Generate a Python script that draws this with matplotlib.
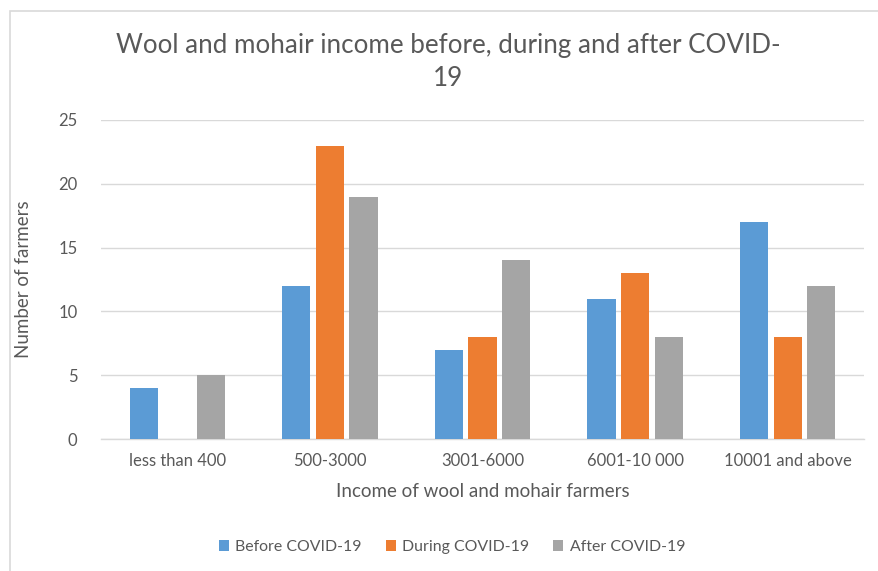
import matplotlib
matplotlib.use("Agg")
import matplotlib.pyplot as plt
from matplotlib.patches import Rectangle, Patch
import numpy as np

categories = ["less than 400", "500-3000", "3001-6000", "6001-10 000", "10001 and above"]
before = [4, 12, 7, 11, 17]
during = [0, 23, 8, 13, 8]
after = [5, 19, 14, 8, 12]
series_names = ["Before COVID-19", "During COVID-19", "After COVID-19"]
colors = ["#5B9BD5", "#ED7D31", "#A5A5A5"]
yticks = [0, 5, 10, 15, 20, 25]

plt.rcParams['font.family'] = ['Lato', 'DejaVu Sans']
TXT = "#595959"

W, H = 879, 571
fig = plt.figure(figsize=(W / 100, H / 100), dpi=100)
fig.patch.set_facecolor("white")

def fx(px):
    return px / W

def fy(py):
    return 1 - py / H

# chart border
fig.patches.append(Rectangle((fx(10), fy(590)), fx(900), (590 - 11) / H,
                             transform=fig.transFigure, fill=False,
                             edgecolor="#D9D9D9", linewidth=1.2))

left, right, top, bottom = 101, 864, 120, 439
ax = fig.add_axes([fx(left), fy(bottom), fx(right - left), (bottom - top) / H])

x = np.arange(len(categories))
bw = 0.184
off = 0.22
for i, (vals, c, name) in enumerate(zip([before, during, after], colors, series_names)):
    ax.bar(x + (i - 1) * off, vals, width=bw, color=c, label=name, zorder=3)

ax.set_xlim(-0.5, len(categories) - 0.5)
ax.set_ylim(0, 25)
ax.set_yticks(yticks)
ax.set_xticks(x)
ax.set_xticklabels(categories)
ax.yaxis.grid(True, color="#D9D9D9", linewidth=1.0, zorder=0)
ax.xaxis.grid(False)
for s in ["top", "right", "left"]:
    ax.spines[s].set_visible(False)
ax.spines["bottom"].set_color("#D9D9D9")
ax.spines["bottom"].set_linewidth(1.0)
ax.tick_params(axis="both", length=0, colors=TXT, labelsize=12)
ax.tick_params(axis="x", pad=10)
ax.tick_params(axis="y", pad=17)
ax.set_facecolor("white")

ax.set_xlabel("Income of wool and mohair farmers", color=TXT, fontsize=13.5, labelpad=10)
ax.set_ylabel("Number of farmers", color=TXT, fontsize=13.5, labelpad=19)

fig.text(fx(448), fy(62), "Wool and mohair income before, during and after COVID-\n19",
         ha="center", va="center", fontsize=18.7, color=TXT, linespacing=1.4)

handles = [Patch(facecolor=c, edgecolor="none") for c in colors]
fig.legend(handles, series_names, loc="center", bbox_to_anchor=(fx(452), fy(547)),
           ncol=3, frameon=False, fontsize=11.4, labelcolor=TXT,
           handlelength=0.65, handleheight=0.65, handletextpad=0.4, columnspacing=1.5)

fig.savefig("out.png", dpi=100, facecolor="white")
